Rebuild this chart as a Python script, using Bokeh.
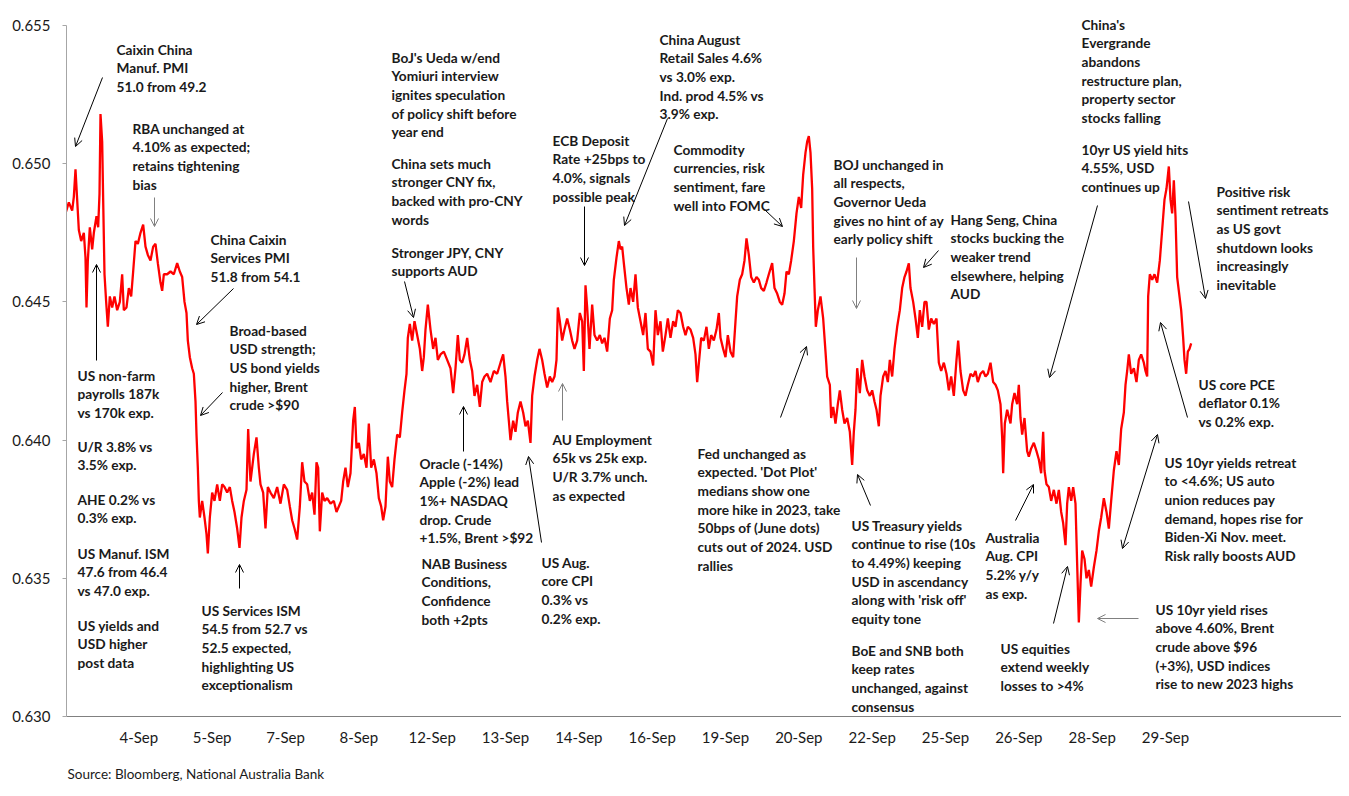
from bokeh.plotting import figure
from bokeh.models import Label, Arrow, OpenHead, FixedTicker, Range1d, Title
from bokeh.embed import file_html
from bokeh.resources import INLINE

# ---------------- data: AUD/USD intraday, September 2023 ----------------
# t: intraday time index (each date label spans 220 units)
t = [0, 10, 20, 25, 30, 35, 40, 47, 55, 60, 63, 67, 73, 80, 85, 93, 98, 102, 105, 110,
     113, 117, 122, 127, 133, 140, 147, 155, 163, 170, 175, 183, 190, 197, 203, 210, 217, 225, 233, 240,
     247, 255, 263, 270, 277, 285, 290, 295, 305, 315, 325, 335, 343, 350, 357, 363, 367, 373, 380, 385,
     390, 393, 397, 400, 403, 410, 417, 423, 427, 433, 440, 447, 455, 463, 470, 477, 485, 493, 500, 507,
     515, 522, 528, 535, 543, 548, 553,
     555, 565, 573, 580, 585, 593, 600, 607, 615, 625, 635, 645, 655, 665, 673, 680, 687, 695, 703, 710,
     717, 725, 733, 740, 747, 753, 758, 763, 770, 777, 785, 795, 805, 813, 820, 827, 833, 840, 847, 855,
     863, 868, 873, 880, 887, 895, 903, 910, 917, 925, 933, 940, 947, 953, 960, 967, 973, 980, 987, 995,
     1003, 1010, 1017, 1023, 1027, 1033, 1040, 1047, 1055, 1063, 1070, 1075, 1080, 1087, 1095, 1103, 1110, 1117,
     1125, 1135, 1145, 1155, 1163, 1170, 1177, 1183, 1190, 1197, 1205, 1213, 1220, 1227, 1235, 1243, 1250, 1257,
     1265, 1275, 1285, 1295, 1305, 1313, 1320, 1325, 1330, 1335, 1343, 1350, 1357, 1365, 1373, 1380, 1387, 1395,
     1400, 1407, 1415, 1422, 1430, 1437, 1445, 1453, 1460, 1467, 1473, 1477, 1483, 1490, 1497, 1505, 1513, 1520,
     1527, 1535, 1543, 1550, 1555, 1560, 1565, 1572, 1580, 1587, 1595, 1603, 1610, 1617, 1625, 1633, 1640, 1645,
     1653, 1660, 1665, 1670, 1675, 1683, 1690,
     1695, 1703, 1710, 1717, 1725, 1733, 1740, 1747, 1755, 1763, 1770, 1777, 1785, 1792, 1800, 1807, 1815, 1823,
     1830, 1837, 1845, 1853, 1860, 1867, 1875, 1883, 1890, 1895, 1901, 1907, 1915, 1923, 1930, 1937, 1945, 1953,
     1960, 1965, 1973, 1980, 1987, 1995, 2003, 2010, 2015, 2023, 2030, 2037, 2043, 2050, 2057, 2065, 2073, 2080,
     2087, 2095, 2103, 2110, 2120, 2127, 2135, 2143, 2150, 2157, 2163, 2170, 2177, 2185, 2193, 2200, 2207, 2213,
     2220, 2225, 2230, 2235, 2240, 2243, 2247, 2251, 2257,
     2265, 2273, 2280, 2285, 2293, 2297, 2303, 2310, 2317, 2323, 2330, 2337, 2345, 2353, 2360, 2365, 2370, 2375,
     2383, 2390, 2397, 2405, 2413, 2420, 2427, 2433, 2440, 2445, 2453, 2460, 2467, 2473, 2480, 2487, 2495, 2503,
     2510, 2517, 2523, 2530, 2535, 2543, 2550, 2557, 2563, 2570, 2577, 2583, 2590, 2597, 2605, 2613, 2620, 2627,
     2635, 2643, 2650, 2657, 2665, 2673, 2678, 2685, 2693, 2700, 2707, 2715, 2723, 2730, 2737, 2745, 2753, 2760,
     2767, 2775, 2783, 2790, 2797, 2805, 2810, 2813, 2818, 2825,
     2835, 2840, 2847, 2855, 2860, 2865, 2870, 2877, 2885, 2890, 2897, 2905, 2913, 2920, 2927, 2933, 2937, 2943,
     2950, 2957, 2965, 2973, 2980, 2987, 2993, 3000, 3005, 3010, 3017, 3023, 3030, 3035, 3040, 3045, 3050, 3057,
     3063, 3070, 3077, 3085, 3093, 3100, 3107, 3115, 3123, 3130, 3137, 3145, 3153, 3160, 3167, 3175, 3180, 3185,
     3190, 3197, 3205, 3213, 3220, 3227, 3235, 3240, 3245, 3248, 3253, 3260, 3267, 3275, 3283, 3290, 3297, 3303,
     3310, 3315, 3320, 3325, 3330, 3335, 3340, 3347, 3353, 3357, 3362, 3367, 3372, 3377]

audusd = [0.6482, 0.6486, 0.6483, 0.6488, 0.6498, 0.6487, 0.6476, 0.6472, 0.6475, 0.6466, 0.6448, 0.6465, 0.6477, 0.6469, 0.6475, 0.6481, 0.6477, 0.6489, 0.6518, 0.6508,
          0.6487, 0.6460, 0.6450, 0.6441, 0.6452, 0.6448, 0.6452, 0.6447, 0.6450, 0.6460, 0.6447, 0.6448, 0.6455, 0.6452, 0.6461, 0.6472, 0.6471, 0.6475, 0.6478, 0.6470,
          0.6467, 0.6465, 0.6470, 0.6471, 0.6464, 0.6457, 0.6454, 0.6460, 0.6460, 0.6461, 0.6460, 0.6464, 0.6461, 0.6459, 0.6450, 0.6446, 0.6436, 0.6430, 0.6426, 0.6424,
          0.6414, 0.6402, 0.6390, 0.6378, 0.6372, 0.6378, 0.6372, 0.6366, 0.6359, 0.6372, 0.6381, 0.6378, 0.6384, 0.6378, 0.6384, 0.6383, 0.6381, 0.6383, 0.6378, 0.6374,
          0.6368, 0.6361, 0.6372, 0.6378, 0.6382, 0.6404, 0.6390,
          0.6385, 0.6395, 0.6401, 0.6390, 0.6384, 0.6381, 0.6368, 0.6383, 0.6381, 0.6379, 0.6383, 0.6377, 0.6384, 0.6382, 0.6376, 0.6371, 0.6368, 0.6364, 0.6376, 0.6392,
          0.6385, 0.6384, 0.6378, 0.6381, 0.6373, 0.6392, 0.6390, 0.6367, 0.6381, 0.6378, 0.6379, 0.6377, 0.6378, 0.6374, 0.6376, 0.6378, 0.6385, 0.6390, 0.6383, 0.6388,
          0.6407, 0.6412, 0.6397, 0.6399, 0.6393, 0.6395, 0.6390, 0.6406, 0.6390, 0.6393, 0.6388, 0.6379, 0.6376, 0.6371, 0.6376, 0.6394, 0.6385, 0.6383, 0.6393, 0.6402,
          0.6401, 0.6410, 0.6418, 0.6424, 0.6437, 0.6442, 0.6436, 0.6443, 0.6438, 0.6433, 0.6425, 0.6430, 0.6440, 0.6449, 0.6440, 0.6433, 0.6437, 0.6429,
          0.6431, 0.6432, 0.6429, 0.6426, 0.6417, 0.6426, 0.6438, 0.6429, 0.6428, 0.6431, 0.6437, 0.6429, 0.6425, 0.6416, 0.6420, 0.6412, 0.6421, 0.6423,
          0.6424, 0.6421, 0.6425, 0.6424, 0.6428, 0.6431, 0.6423, 0.6414, 0.6407, 0.6400, 0.6407, 0.6403, 0.6410, 0.6414, 0.6410, 0.6405, 0.6407, 0.6399,
          0.6416, 0.6423, 0.6429, 0.6433, 0.6429, 0.6424, 0.6419, 0.6423, 0.6421, 0.6423, 0.6429, 0.6448, 0.6443, 0.6436, 0.6440, 0.6444, 0.6440, 0.6436,
          0.6433, 0.6436, 0.6446, 0.6443, 0.6425, 0.6456, 0.6448, 0.6433, 0.6449, 0.6438, 0.6436, 0.6438, 0.6435, 0.6437, 0.6432, 0.6444, 0.6447, 0.6458,
          0.6466, 0.6472, 0.6469, 0.6470, 0.6464, 0.6455, 0.6449,
          0.6455, 0.6450, 0.6460, 0.6448, 0.6443, 0.6438, 0.6446, 0.6433, 0.6432, 0.6427, 0.6447, 0.6438, 0.6443, 0.6432, 0.6438, 0.6444, 0.6437, 0.6443,
          0.6441, 0.6447, 0.6446, 0.6441, 0.6438, 0.6441, 0.6440, 0.6437, 0.6431, 0.6421, 0.6429, 0.6437, 0.6436, 0.6441, 0.6433, 0.6438, 0.6436, 0.6440,
          0.6446, 0.6437, 0.6433, 0.6430, 0.6438, 0.6432, 0.6430, 0.6443, 0.6452, 0.6458, 0.6460, 0.6465, 0.6473, 0.6467, 0.6459, 0.6457, 0.6459, 0.6458,
          0.6455, 0.6454, 0.6457, 0.6460, 0.6464, 0.6455, 0.6453, 0.6450, 0.6449, 0.6453, 0.6461, 0.6460, 0.6465, 0.6472, 0.6482, 0.6488, 0.6484, 0.6496,
          0.6504, 0.6508, 0.6510, 0.6504, 0.6491, 0.6470, 0.6455, 0.6441, 0.6447,
          0.6452, 0.6444, 0.6432, 0.6423, 0.6420, 0.6408, 0.6412, 0.6406, 0.6413, 0.6418, 0.6411, 0.6406, 0.6408, 0.6403, 0.6391, 0.6403, 0.6411, 0.6426,
          0.6417, 0.6429, 0.6423, 0.6418, 0.6416, 0.6418, 0.6414, 0.6411, 0.6405, 0.6416, 0.6423, 0.6425, 0.6421, 0.6429, 0.6423, 0.6433, 0.6441, 0.6447,
          0.6455, 0.6459, 0.6461, 0.6464, 0.6455, 0.6450, 0.6444, 0.6437, 0.6447, 0.6441, 0.6450, 0.6450, 0.6440, 0.6444, 0.6442, 0.6444, 0.6428, 0.6425,
          0.6428, 0.6424, 0.6418, 0.6423, 0.6416, 0.6429, 0.6436, 0.6425, 0.6418, 0.6416, 0.6420, 0.6424, 0.6423, 0.6425, 0.6421, 0.6424, 0.6425, 0.6423,
          0.6424, 0.6428, 0.6421, 0.6420, 0.6418, 0.6413, 0.6401, 0.6388, 0.6406, 0.6411,
          0.6406, 0.6413, 0.6417, 0.6413, 0.6420, 0.6408, 0.6402, 0.6408, 0.6396, 0.6394, 0.6397, 0.6399, 0.6396, 0.6393, 0.6388, 0.6403, 0.6389, 0.6384,
          0.6383, 0.6378, 0.6382, 0.6377, 0.6382, 0.6374, 0.6370, 0.6362, 0.6377, 0.6383, 0.6378, 0.6383, 0.6377, 0.6355, 0.6334, 0.6348, 0.6360, 0.6357,
          0.6350, 0.6353, 0.6347, 0.6354, 0.6360, 0.6367, 0.6372, 0.6379, 0.6374, 0.6368, 0.6378, 0.6389, 0.6396, 0.6391, 0.6404, 0.6410, 0.6420, 0.6425,
          0.6431, 0.6424, 0.6426, 0.6421, 0.6429, 0.6431, 0.6428, 0.6425, 0.6423, 0.6452, 0.6460, 0.6458, 0.6460, 0.6457, 0.6465, 0.6476, 0.6487, 0.6491,
          0.6499, 0.6487, 0.6482, 0.6494, 0.6481, 0.6459, 0.6454, 0.6447, 0.6437, 0.6429, 0.6424, 0.6432, 0.6433, 0.6435]

date_labels = ["4-Sep", "5-Sep", "7-Sep", "8-Sep", "12-Sep", "13-Sep", "14-Sep", "16-Sep",
               "19-Sep", "20-Sep", "22-Sep", "25-Sep", "26-Sep", "28-Sep", "29-Sep"]
date_ticks = [220 * (i + 1) for i in range(len(date_labels))]
y_ticks = [0.630, 0.635, 0.640, 0.645, 0.650, 0.655]

# ---------------- layout ----------------
W, H = 1341, 796
FL, FR, FT, FB = 66, 1341, 5, 716        # frame edges inside the figure (px)
X0, X1 = 3, 3828
Y0 = 0.630
YTOP = 0.655 + (25 - FT) * (0.025 / (FB - 25))   # headroom so notes above 0.655 are not clipped


def px(X, Y):
    """page pixel -> data coordinates"""
    return (X0 + (X - FL) / (FR - FL) * (X1 - X0),
            YTOP - (Y - FT) / (FB - FT) * (YTOP - Y0))


p = figure(width=W, height=H, x_range=Range1d(X0, X1), y_range=Range1d(Y0, YTOP),
           output_backend="svg", toolbar_location=None,
           min_border_left=FL, min_border_right=0, min_border_top=FT, min_border_bottom=H - FB)
p.outline_line_color = None
p.grid.visible = False
p.background_fill_color = "white"
p.border_fill_color = "white"

FONT = "Lato"
TXT = "#1a1a1a"

p.xaxis.ticker = FixedTicker(ticks=date_ticks)
p.xaxis.major_label_overrides = {tk: lb for tk, lb in zip(date_ticks, date_labels)}
p.xaxis.major_tick_line_color = None
p.xaxis.minor_tick_line_color = None
p.xaxis.major_tick_out = 0
p.xaxis.major_tick_in = 0
p.xaxis.axis_line_color = "#808080"
p.xaxis.major_label_standoff = 11
p.xaxis.major_label_text_font = FONT
p.xaxis.major_label_text_font_size = "15px"
p.xaxis.major_label_text_color = TXT

p.yaxis.ticker = FixedTicker(ticks=y_ticks)
p.yaxis.bounds = (0.630, 0.655)
p.yaxis.major_label_overrides = {v: f"{v:.3f}" for v in y_ticks}
p.yaxis.minor_tick_line_color = None
p.yaxis.major_tick_out = 4
p.yaxis.major_tick_in = 0
p.yaxis.major_tick_line_color = "#a6a6a6"
p.yaxis.axis_line_color = "#a6a6a6"
p.yaxis.major_label_standoff = 12
p.yaxis.major_label_text_font = FONT
p.yaxis.major_label_text_font_size = "15px"
p.yaxis.major_label_text_color = TXT

p.line(t, audusd, line_color="#ff0000", line_width=2.3)

# ---------------- annotations ----------------
notes = [
    ("Caixin China\nManuf. PMI\n51.0 from 49.2", 116, 49),
    ("RBA unchanged at\n4.10% as expected;\nretains tightening\nbias", 132, 128),
    ("China Caixin\nServices PMI\n51.8 from 54.1", 210, 239),
    ("Broad-based\nUSD strength;\nUS bond yields\nhigher, Brent\ncrude >$90", 229, 330),
    ("US non-farm\npayrolls 187k\nvs 170k exp.", 77, 375),
    ("U/R 3.8% vs\n3.5% exp.", 77, 446),
    ("AHE 0.2% vs\n0.3% exp.", 77, 499),
    ("US Manuf. ISM\n47.6 from 46.4\nvs 47.0 exp.", 77, 553),
    ("US yields and\nUSD higher\npost data", 77, 625),
    ("US Services ISM\n54.5 from 52.7 vs\n52.5 expected,\nhighlighting US\nexceptionalism", 201, 610),
    ("BoJ's Ueda w/end\nYomiuri interview\nignites speculation\nof policy shift before\nyear end", 391, 57),
    ("China sets much\nstronger CNY fix,\nbacked with pro-CNY\nwords", 391, 163),
    ("Stronger JPY, CNY\nsupports AUD", 391, 252),
    ("Oracle (-14%)\nApple (-2%) lead\n1%+ NASDAQ\ndrop. Crude\n+1.5%, Brent >$92", 419, 463),
    ("NAB Business\nConditions,\nConfidence\nboth +2pts", 421, 563),
    ("US Aug.\ncore CPI\n0.3% vs\n0.2% exp.", 541, 562),
    ("AU Employment\n65k vs 25k exp.\nU/R 3.7% unch.\nas expected", 552, 439),
    ("ECB Deposit\nRate +25bps to\n4.0%, signals\npossible peak", 552, 140),
    ("China August\nRetail Sales 4.6%\nvs 3.0% exp.\nInd. prod 4.5% vs\n3.9% exp.", 659, 39),
    ("Commodity\ncurrencies, risk\nsentiment, fare\nwell into FOMC", 673, 149),
    ("Fed unchanged as\nexpected. 'Dot Plot'\nmedians show one\nmore hike in 2023, take\n50bps of (June dots)\ncuts out of 2024. USD\nrallies", 697, 453),
    ("BOJ unchanged in\nall respects,\nGovernor Ueda\ngives no hint of ay\nearly policy shift", 833, 164),
    ("US Treasury yields\ncontinue to rise (10s\nto 4.49%) keeping\nUSD in ascendancy\nalong with 'risk off'\nequity tone", 851, 525),
    ("BoE and SNB both\nkeep rates\nunchanged, against\nconsensus", 851, 650),
    ("Hang Seng, China\nstocks bucking the\nweaker trend\nelsewhere, helping\nAUD", 950, 219),
    ("China's\nEvergrande\nabandons\nrestructure plan,\nproperty sector\nstocks falling", 1081, 24),
    ("10yr US yield hits\n4.55%, USD\ncontinues up", 1081, 149),
    ("Positive risk\nsentiment retreats\nas US govt\nshutdown looks\nincreasingly\ninevitable", 1216, 191),
    ("US core PCE\ndeflator 0.1%\nvs 0.2% exp.", 1198, 384),
    ("US 10yr yields retreat\nto <4.6%; US auto\nunion reduces pay\ndemand, hopes rise for\nBiden-Xi Nov. meet.\nRisk rally boosts AUD", 1164, 462),
    ("Australia\nAug. CPI\n5.2% y/y\nas exp.", 985, 537),
    ("US equities\nextend  weekly\nlosses to >4%", 1000, 648),
    ("US 10yr yield rises\nabove 4.60%, Brent\ncrude above $96\n(+3%), USD indices\nrise to new 2023 highs", 1155, 609),
]

for txt, X, Yc in notes:
    x, y = px(X, Yc - 9)
    p.add_layout(Label(x=x, y=y, text=txt, text_baseline="top", text_align="left",
                       text_font=FONT, text_font_size="13.7px", text_font_style="bold",
                       text_line_height=1.1, text_color=TXT))

BLK, GRY = "#000000", "#808080"
arrows = [
    (102, 77, 75, 146, BLK, False),
    (154, 197, 154, 226, GRY, False),
    (233, 288, 196, 324, BLK, False),
    (222, 392, 200, 415, BLK, False),
    (96, 360, 96, 264, BLK, False),
    (239, 588, 239, 564, BLK, False),
    (404, 281, 413, 317, BLK, False),
    (463, 451, 463, 406, BLK, False),
    (541, 542, 528, 456, BLK, False),
    (562, 420, 562, 383, GRY, False),
    (584, 206, 584, 265, BLK, False),
    (667, 118, 624, 225, BLK, False),
    (765, 210, 782, 226, BLK, False),
    (780, 417, 806, 346, BLK, False),
    (856, 257, 856, 308, GRY, False),
    (870, 505, 857, 474, BLK, False),
    (938, 250, 923, 267, BLK, False),
    (1097, 205, 1049, 377, BLK, False),
    (1188, 201, 1205, 298, BLK, False),
    (1187, 417, 1160, 322, BLK, False),
    (1122, 548, 1157, 434, BLK, True),
    (1015, 520, 1033, 484, BLK, False),
    (1053, 623, 1067, 566, BLK, False),
    (1138, 618, 1097, 618, GRY, False),
]

for X1a, Y1a, X2a, Y2a, col, both in arrows:
    xs, ys = px(X1a, Y1a)
    xe, ye = px(X2a, Y2a)
    kw = dict(end=OpenHead(size=8, line_width=1, line_color=col),
              x_start=xs, y_start=ys, x_end=xe, y_end=ye,
              line_color=col, line_width=1)
    if both:
        kw["start"] = OpenHead(size=8, line_width=1, line_color=col)
    p.add_layout(Arrow(**kw))

src = Title(text="Source: Bloomberg, National Australia Bank", align="left",
            text_font=FONT, text_font_size="13.5px", text_font_style="normal",
            text_color=TXT, standoff=30, offset=1)
p.add_layout(src, "below")

open("out.html", "w").write(file_html(p, INLINE))
